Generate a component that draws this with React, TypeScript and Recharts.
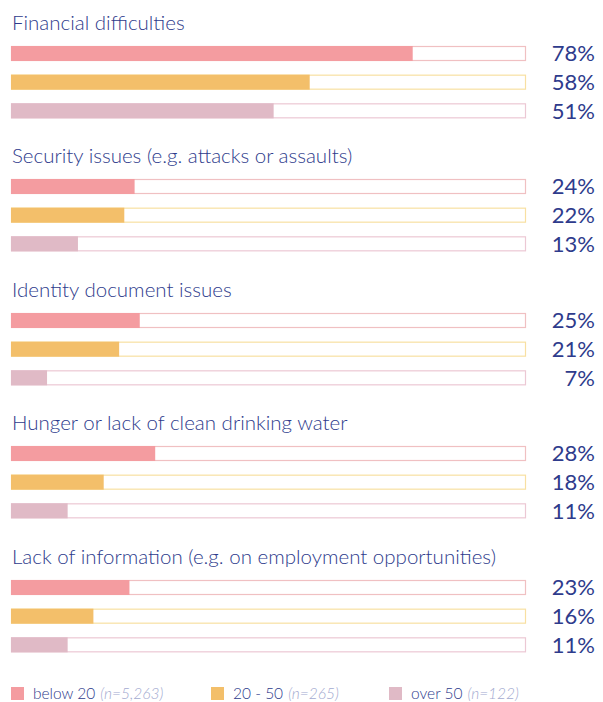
import React from "react";
import { BarChart, Bar, XAxis, YAxis } from "recharts";

const categories = [
  "Financial difficulties",
  "Security issues (e.g. attacks or assaults)",
  "Identity document issues",
  "Hunger or lack of clean drinking water",
  "Lack of information (e.g. on employment opportunities)",
];
const ageGroups = ["below 20", "20 - 50", "over 50"];
const sampleSizes = ["(n=5,263)", "(n=265)", "(n=122)"];
const below20 = [78, 24, 25, 28, 23];
const age20to50 = [58, 22, 21, 18, 16];
const over50 = [51, 13, 7, 11, 11];

const series = [below20, age20to50, over50];
const fills = ["#F49CA0", "#F3BF6A", "#E0BAC6"];
const outlines = ["#F0C0C2", "#F8E0A2", "#ECC8D4"];
const textColor = "#2E3B8C";
const font = "Lato, 'Open Sans', sans-serif";

const GROUP_H = 133.4;

const BarShape = (props: any) => {
  const { x, y, width, height, payload } = props;
  const j = ageGroups.indexOf(payload.group);
  const full = payload.value > 0 ? (width * 100) / payload.value : 0;
  return (
    <g>
      <rect x={x + 0.5} y={y + 0.5} width={full - 1} height={height - 1} fill="#fff" stroke={outlines[j]} strokeWidth={1.2} />
      <rect x={x} y={y} width={width} height={height} fill={fills[j]} />
    </g>
  );
};

const PctTick = (props: any) => {
  const { y, payload, data } = props;
  const row = data.find((d: any) => d.group === payload.value);
  return (
    <text x={595} y={y} dy={8} textAnchor="end" fill={textColor} fontSize={22} fontWeight={400} fontFamily={font}>
      {row ? `${row.value}%` : ""}
    </text>
  );
};

const Group = ({ i }: { i: number }) => {
  const data = ageGroups.map((g, j) => ({ group: g, value: series[j][i] }));
  const top = i * GROUP_H;
  return (
    <div style={{ position: "absolute", left: 0, top, width: 603, height: GROUP_H }}>
      <div
        style={{
          position: "absolute",
          left: 12,
          top: 10,
          fontSize: 20.5,
          fontWeight: 300,
          lineHeight: "24px",
          color: textColor,
          fontFamily: font,
          whiteSpace: "nowrap",
        }}
      >
        {categories[i]}
      </div>
      <div style={{ position: "absolute", left: 0, top: 39 }}>
        <BarChart width={603} height={86} data={data} layout="vertical" margin={{ top: 0, right: 0, left: 11, bottom: 0 }}>
          <XAxis type="number" domain={[0, 100]} hide />
          <YAxis
            type="category"
            dataKey="group"
            orientation="right"
            width={77}
            axisLine={false}
            tickLine={false}
            tick={<PctTick data={data} />}
          />
          <Bar dataKey="value" barSize={15} shape={<BarShape />} isAnimationActive={false} />
        </BarChart>
      </div>
    </div>
  );
};

const legendX = [11, 211, 389];

export default function App() {
  return (
    <div style={{ position: "absolute", left: 0, top: 0, width: 603, height: 702, background: "#fff", overflow: "hidden" }}>
      {categories.map((_, i) => (
        <Group key={i} i={i} />
      ))}
      {ageGroups.map((g, j) => (
        <div
          key={g}
          style={{
            position: "absolute",
            left: legendX[j],
            top: 686,
            height: 14,
            display: "flex",
            alignItems: "center",
            fontFamily: font,
            fontSize: 15.5,
            fontWeight: 300,
            lineHeight: "14px",
            whiteSpace: "nowrap",
          }}
        >
          <span style={{ display: "inline-block", width: 13, height: 13, background: fills[j], marginRight: 9 }} />
          <span style={{ color: textColor }}>{g}</span>
          <span style={{ color: "#A3AAD0", fontStyle: "italic", marginLeft: 5 }}>{sampleSizes[j]}</span>
        </div>
      ))}
    </div>
  );
}
